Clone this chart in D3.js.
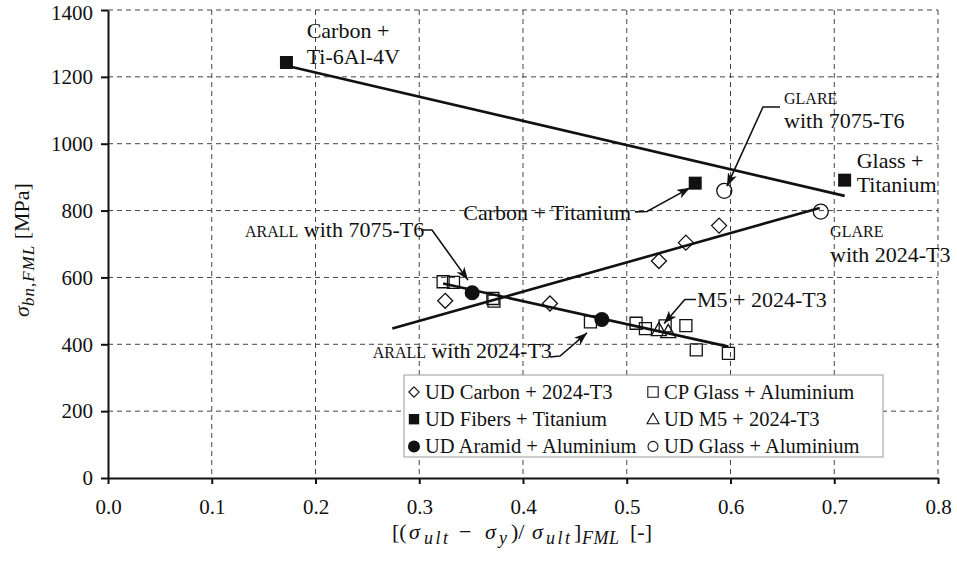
<!DOCTYPE html>
<html>
<head>
<meta charset="utf-8">
<script src="https://cdn.jsdelivr.net/npm/d3@7"></script>
<style>
  body { margin: 0; background: #fff; }
  text { font-family: "Liberation Serif", "Times New Roman", serif; fill: #111; }
</style>
</head>
<body>
<div id="wrapper"></div>
<script>
// ---- data ----
const xTicks = [0, 0.1, 0.2, 0.3, 0.4, 0.5, 0.6, 0.7, 0.8]
const yTicks = [0, 200, 400, 600, 800, 1000, 1200, 1400]

const udCarbon2024 = [[0.325, 530], [0.426, 522], [0.531, 649], [0.557, 704], [0.589, 755]]
const cpGlassAl = [[0.323, 587], [0.333, 585], [0.371, 537], [0.372, 529], [0.465, 467],
                   [0.509, 463], [0.518, 447], [0.537, 455], [0.557, 456], [0.567, 383], [0.598, 373]]
const udFibersTi = [[0.172, 1243], [0.566, 882], [0.710, 891]]
const udM52024 = [[0.531, 443], [0.540, 437]]
const udAramidAl = [[0.351, 554], [0.476, 474]]
const udGlassAl = [[0.594, 859], [0.687, 797]]

const trendTitanium = [[0.17, 1235], [0.71, 844]]
const trendGlare = [[0.274, 447], [0.686, 808]]
const trendArall = [[0.323, 582], [0.598, 393]]

const series = [
  { name: "UD Carbon + 2024-T3", shape: "diamond", fill: false, data: udCarbon2024 },
  { name: "CP Glass + Aluminium", shape: "square", fill: false, data: cpGlassAl },
  { name: "UD Fibers + Titanium", shape: "square", fill: true, data: udFibersTi },
  { name: "UD M5 + 2024-T3", shape: "triangle", fill: false, data: udM52024 },
  { name: "UD Aramid + Aluminium", shape: "circle", fill: true, data: udAramidAl },
  { name: "UD Glass + Aluminium", shape: "circle", fill: false, data: udGlassAl },
]

// annotation text: each line is a list of [string, smallCaps]
const notes = [
  { x: 0.1915, y: [1316, 1238], lines: [[["Carbon +", false]], [["Ti-6Al-4V", false]]] },
  { x: 0.6516, y: [1120, 1048], lines: [[["GLARE", true]], [["with 7075-T6", false]]] },
  { x: 0.3425, y: [772], lines: [[["Carbon + Titanium", false]]] },
  { x: 0.7216, y: [927, 856], lines: [[["Glass +", false]], [["Titanium", false]]] },
  { x: 0.696, y: [721, 646], lines: [[["GLARE", true]], [["with 2024-T3", false]]] },
  { x: 0.132, y: [721], lines: [[["ARALL", true], [" with 7075-T6", false]]] },
  { x: 0.2551, y: [359], lines: [[["ARALL", true], [" with 2024-T3", false]]] },
  { x: 0.5677, y: [511], lines: [[["M5 + 2024-T3", false]]] },
]

const leaders = [
  [[0.6477, 1110], [0.6313, 1110], [0.5966, 873]],
  [[0.508, 796], [0.5195, 797], [0.561, 868]],
  [[0.3017, 742], [0.3123, 742], [0.347, 592]],
  [[0.426, 362], [0.4357, 365], [0.4617, 434]],
  [[0.5667, 534], [0.556, 534], [0.536, 462]],
]

// ---- dimensions ----
const dimensions = {
  width: 957, height: 564,
  margin: { top: 10, right: 19, bottom: 86, left: 108 },
}
dimensions.boundedWidth = dimensions.width - dimensions.margin.left - dimensions.margin.right
dimensions.boundedHeight = dimensions.height - dimensions.margin.top - dimensions.margin.bottom

const svg = d3.select("#wrapper").append("svg")
  .attr("width", dimensions.width)
  .attr("height", dimensions.height)

const defs = svg.append("defs")
defs.append("marker")
  .attr("id", "arrow")
  .attr("viewBox", "-13 -5 14 10")
  .attr("refX", 0).attr("refY", 0)
  .attr("markerUnits", "userSpaceOnUse")
  .attr("markerWidth", 14).attr("markerHeight", 10)
  .attr("orient", "auto")
  .append("path")
  .attr("d", "M0,0L-13,-4.8L-9.5,0L-13,4.8Z")
  .attr("fill", "#111")

const bounds = svg.append("g")
  .attr("transform", `translate(${dimensions.margin.left},${dimensions.margin.top})`)

// ---- scales ----
const xScale = d3.scaleLinear().domain([0, 0.8]).range([0, dimensions.boundedWidth])
const yScale = d3.scaleLinear().domain([0, 1400]).range([dimensions.boundedHeight, 0])

// ---- grid ----
const grid = bounds.append("g")
  .attr("stroke", "#444").attr("stroke-width", 1).attr("stroke-dasharray", "5,4")
grid.selectAll(".gy").data(yTicks.filter(d => d > 0)).join("line")
  .attr("x1", 0).attr("x2", dimensions.boundedWidth)
  .attr("y1", d => yScale(d)).attr("y2", d => yScale(d))
grid.selectAll(".gx").data(xTicks.filter(d => d > 0)).join("line")
  .attr("y1", 0).attr("y2", dimensions.boundedHeight)
  .attr("x1", d => xScale(d)).attr("x2", d => xScale(d))

// ---- axes ----
const yAxis = bounds.append("g")
  .call(d3.axisLeft(yScale).tickValues(yTicks).tickSize(7).tickSizeOuter(0).tickPadding(8).tickFormat(d3.format("d")))
const xAxis = bounds.append("g")
  .attr("transform", `translate(0,${dimensions.boundedHeight})`)
  .call(d3.axisBottom(xScale).tickValues(xTicks).tickSize(6).tickSizeOuter(0).tickPadding(15).tickFormat(d3.format(".1f")))
;[xAxis, yAxis].forEach(a => {
  a.select(".domain").attr("stroke", "#111").attr("stroke-width", 2)
  a.selectAll(".tick line").attr("stroke", "#111").attr("stroke-width", 2)
  a.selectAll(".tick text").attr("font-size", 21).attr("fill", "#111")
    .style("font-family", "'Liberation Serif', serif")
})
yAxis.selectAll(".tick text").filter(d => d === 1400).attr("dy", "0.45em")

// ---- trend lines ----
const line = d3.line().x(d => xScale(d[0])).y(d => yScale(d[1]))
bounds.selectAll(".trend").data([trendTitanium, trendGlare, trendArall]).join("path")
  .attr("d", line)
  .attr("fill", "none").attr("stroke", "#111").attr("stroke-width", 2.6)

// ---- markers ----
function shapePath(shape, s) {
  if (shape === "diamond") return `M0,${-s}L${s},0L0,${s}L${-s},0Z`
  if (shape === "square") return `M${-s},${-s}H${s}V${s}H${-s}Z`
  if (shape === "triangle") return `M0,${-s}L${s},${s * 0.75}L${-s},${s * 0.75}Z`
  return d3.arc()({ innerRadius: 0, outerRadius: s, startAngle: 0, endAngle: 2 * Math.PI })
}
const sizes = { diamond: 7.5, square: 6, triangle: 7.5, circle: 7.5 }

series.forEach(s => {
  bounds.append("g").selectAll("path").data(s.data).join("path")
    .attr("transform", d => `translate(${xScale(d[0])},${yScale(d[1])})`)
    .attr("d", shapePath(s.shape, s.shape === "square" && s.fill ? 6.5 : sizes[s.shape]))
    .attr("fill", s.fill ? "#111" : "none")
    .attr("stroke", "#111").attr("stroke-width", s.fill ? 0 : 1.3)
})

// ---- annotations ----
const noteG = bounds.append("g")
notes.forEach(n => {
  n.lines.forEach((ln, i) => {
    const t = noteG.append("text")
      .attr("x", xScale(n.x)).attr("y", yScale(n.y[i]))
      .attr("font-size", 22)
    ln.forEach(([str, small]) => {
      t.append("tspan").attr("font-size", small ? 16 : 22).text(str)
    })
  })
})
bounds.selectAll(".leader").data(leaders).join("path")
  .attr("d", line)
  .attr("fill", "none").attr("stroke", "#111").attr("stroke-width", 1.6)
  .attr("marker-end", "url(#arrow)")

// ---- legend ----
const legend = svg.append("g").attr("transform", "translate(404,375)")
legend.append("rect")
  .attr("width", 479).attr("height", 82)
  .attr("fill", "#fff").attr("stroke", "#999").attr("stroke-width", 1)
const legendItems = legend.selectAll(".item").data(series).join("g")
  .attr("transform", (d, i) => `translate(${(i % 2) * 239 + 10},${Math.floor(i / 2) * 27.2 + 17})`)
legendItems.append("path")
  .attr("d", d => shapePath(d.shape, d.shape === "circle" ? (d.fill ? 6 : 5) : d.shape === "triangle" ? 6 : 5.2))
  .attr("fill", d => d.fill ? "#111" : "none")
  .attr("stroke", "#111").attr("stroke-width", d => d.fill ? 0 : 1.1)
legendItems.append("text")
  .attr("x", 11).attr("y", 7)
  .attr("font-size", 20.5)
  .text(d => d.name)

// ---- axis titles ----
const yTitle = svg.append("text")
  .attr("transform", "translate(29,250) rotate(-90)")
  .attr("text-anchor", "middle").attr("font-size", 22)
yTitle.append("tspan").attr("font-style", "italic").text("σ")
yTitle.append("tspan").attr("font-style", "italic").attr("font-size", 17).attr("dy", 5)
  .attr("letter-spacing", 1).text("bn,FML")
yTitle.append("tspan").attr("dy", -5).text("  [MPa]")

// pieces of the x title: [text, italic, subscript, left x, letter spacing]
const xTitleParts = [
  ["[(", false, false, 392, 0], ["σ", true, false, 409, 0], ["ult", true, true, 424, 2.5],
  ["−", false, false, 459, 0], ["σ", true, false, 485, 0], ["y", true, true, 499, 0],
  [")/", false, false, 511, 0], ["σ", true, false, 532, 0], ["ult", true, true, 546, 2.5],
  ["]", false, false, 574, 0], ["FML", true, true, 582, 0.5], ["[-]", false, false, 630, 0],
]
const xTitle = svg.append("text").attr("y", 539).attr("font-size", 22)
xTitleParts.forEach(([str, ital, isSub, px, ls]) => {
  xTitle.append("tspan")
    .attr("x", px).attr("y", isSub ? 544 : 539)
    .attr("font-style", ital ? "italic" : "normal")
    .attr("font-size", isSub ? 18 : 22)
    .attr("letter-spacing", ls)
    .text(str)
})
</script>
</body>
</html>
